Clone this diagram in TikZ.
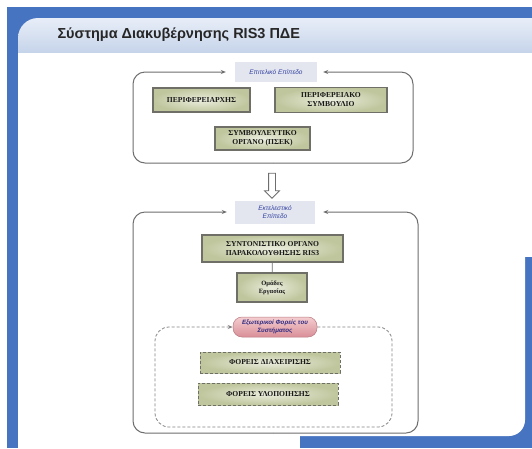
\documentclass[tikz,border=0pt]{standalone}
\usepackage{fontspec}
\setmainfont{Liberation Serif}
\newfontfamily\headfont{Liberation Sans}
\usepackage{tikz}
\usetikzlibrary{shapes,arrows.meta}
\definecolor{frameblue}{HTML}{4774C0}
\definecolor{bandtop}{HTML}{E8EEF8}
\definecolor{bandbot}{HTML}{C6D4EA}
\definecolor{olivein}{HTML}{EBEDDD}
\definecolor{oliveout}{HTML}{BFC69D}
\definecolor{boxline}{HTML}{6F6F68}
\definecolor{ringgray}{HTML}{6E6E6E}
\definecolor{lblfill}{HTML}{E4E6EF}
\definecolor{lbltext}{HTML}{3040A0}
\definecolor{pinktop}{HTML}{F4CDD0}
\definecolor{pinkbot}{HTML}{D98E97}
\definecolor{pilltext}{HTML}{2E2A80}
\tikzstyle{box} = [draw=boxline, line width=1.3pt, inner color=olivein, outer color=oliveout, align=center, inner sep=0pt, text=black!90, font=\fontsize{7.6}{9}\selectfont\bfseries]
\tikzstyle{dashbox} = [box, line width=1pt, dash pattern=on 3pt off 2pt]
\tikzstyle{lbl} = [fill=lblfill, text=lbltext, align=center, inner sep=0pt, font=\headfont\itshape\fontsize{6.5}{8}\selectfont]
\tikzstyle{pill} = [draw=pinkbot!85!black, line width=0.5pt, top color=pinktop, bottom color=pinkbot, rounded corners=9pt, text=pilltext, align=center, inner sep=0pt, font=\headfont\bfseries\itshape\fontsize{6.2}{7.5}\selectfont]
\tikzstyle{ring} = [draw=ringgray, line width=1pt, rounded corners=12pt]
\tikzstyle{dashring} = [draw=ringgray!85, line width=0.8pt, dash pattern=on 3pt off 2pt, rounded corners=14pt]
\tikzstyle{inarrow} = [{Stealth[length=5pt,width=4pt]}-]
\tikzstyle{hollow} = [single arrow, draw=ringgray, line width=0.8pt, fill=white, shape border rotate=270, minimum height=25pt, inner sep=3pt, single arrow head extend=4pt, single arrow head indent=0pt]

\begin{document}
\begin{tikzpicture}[x=1pt,y=-1pt]
\useasboundingbox (0,0) rectangle (532,448);
\fill[white] (0,0) rectangle (532,448);
\fill[frameblue] (7,7) rectangle (532,448);
\fill[white] (18,52) rectangle (300,448);
\fill[white] (18,52) rectangle (532,257);
\fill[white,rounded corners=16pt] (18,52) rectangle (525,436);
\begin{scope}
\clip[rounded corners=20pt] (18,18) rectangle (600,300);
\shade[top color=bandtop,bottom color=bandbot] (18,18) rectangle (532,52);
\end{scope}
\node[anchor=west, text=black!85, font=\headfont\bfseries\fontsize{14.5}{17}\selectfont] (title) at (54,35) {Σύστημα Διακυβέρνησης RIS3 ΠΔΕ};

\node[lbl, minimum width=82pt, minimum height=20pt] (epitelLbl) at (276,72) {Επιτελικό Επίπεδο};
\coordinate (uSW) at (133,163);
\coordinate (uSE) at (413,163);
\coordinate (uS) at (273,163);
\draw[ring, inarrow, shorten <=9pt] (epitelLbl.west) -| (uSW) -- (uS);
\draw[ring, inarrow, shorten <=6pt] (epitelLbl.east) -| (uSE) -- (uS);
\node[box, minimum width=97pt, minimum height=24pt] (perifereiarxis) at (201.5,100) {ΠΕΡΙΦΕΡΕΙΑΡΧΗΣ};
\node[box, minimum width=112pt, minimum height=25pt] (perifereiako) at (331,100) {ΠΕΡΙΦΕΡΕΙΑΚΟ\\ΣΥΜΒΟΥΛΙΟ};
\node[box, minimum width=95pt, minimum height=23pt] (symvouleftiko) at (262.5,138.5) {ΣΥΜΒΟΥΛΕΥΤΙΚΟ\\ΟΡΓΑΝΟ (ΠΣΕΚ)};

\node[hollow] (down) at (272,184) {};

\node[lbl, minimum width=80pt, minimum height=23pt] (ektelLbl) at (275,212) {Εκτελεστικό\\Επίπεδο};
\coordinate (lSW) at (133,433);
\coordinate (lSE) at (418,433);
\coordinate (lS) at (273,433);
\draw[ring, inarrow, shorten <=8pt] (ektelLbl.west) -| (lSW) -- (lS);
\draw[ring, inarrow, shorten <=8pt] (ektelLbl.east) -| (lSE) -- (lS);
\node[box, minimum width=141pt, minimum height=27pt] (syntonistiko) at (272.5,248.5) {ΣΥΝΤΟΝΙΣΤΙΚΟ ΟΡΓΑΝΟ\\ΠΑΡΑΚΟΛΟΥΘΗΣΗΣ RIS3};
\node[box, minimum width=70pt, minimum height=29pt, font=\fontsize{6.5}{8}\selectfont\bfseries] (omades) at (272,287.5) {Ομάδες\\Εργασίας};
\draw[draw=ringgray, line width=0.8pt] (syntonistiko) -- (omades);

\node[pill, minimum width=84pt, minimum height=20pt] (eksoterikoi) at (275,327) {Εξωτερικοί Φορείς του\\Συστήματος};
\coordinate (dSW) at (155,427);
\coordinate (dSE) at (392,427);
\coordinate (dS) at (273,427);
\draw[dashring, inarrow] (eksoterikoi.west) -| (dSW) -- (dS);
\draw[dashring] (eksoterikoi.east) -| (dSE) -- (dS);
\node[dashbox, minimum width=140pt, minimum height=21pt] (diaxeirisis) at (270,362.5) {ΦΟΡΕΙΣ ΔΙΑΧΕΙΡΙΣΗΣ};
\node[dashbox, minimum width=140pt, minimum height=22pt] (ylopoiisis) at (268,394) {ΦΟΡΕΙΣ ΥΛΟΠΟΙΗΣΗΣ};
\end{tikzpicture}
\end{document}
